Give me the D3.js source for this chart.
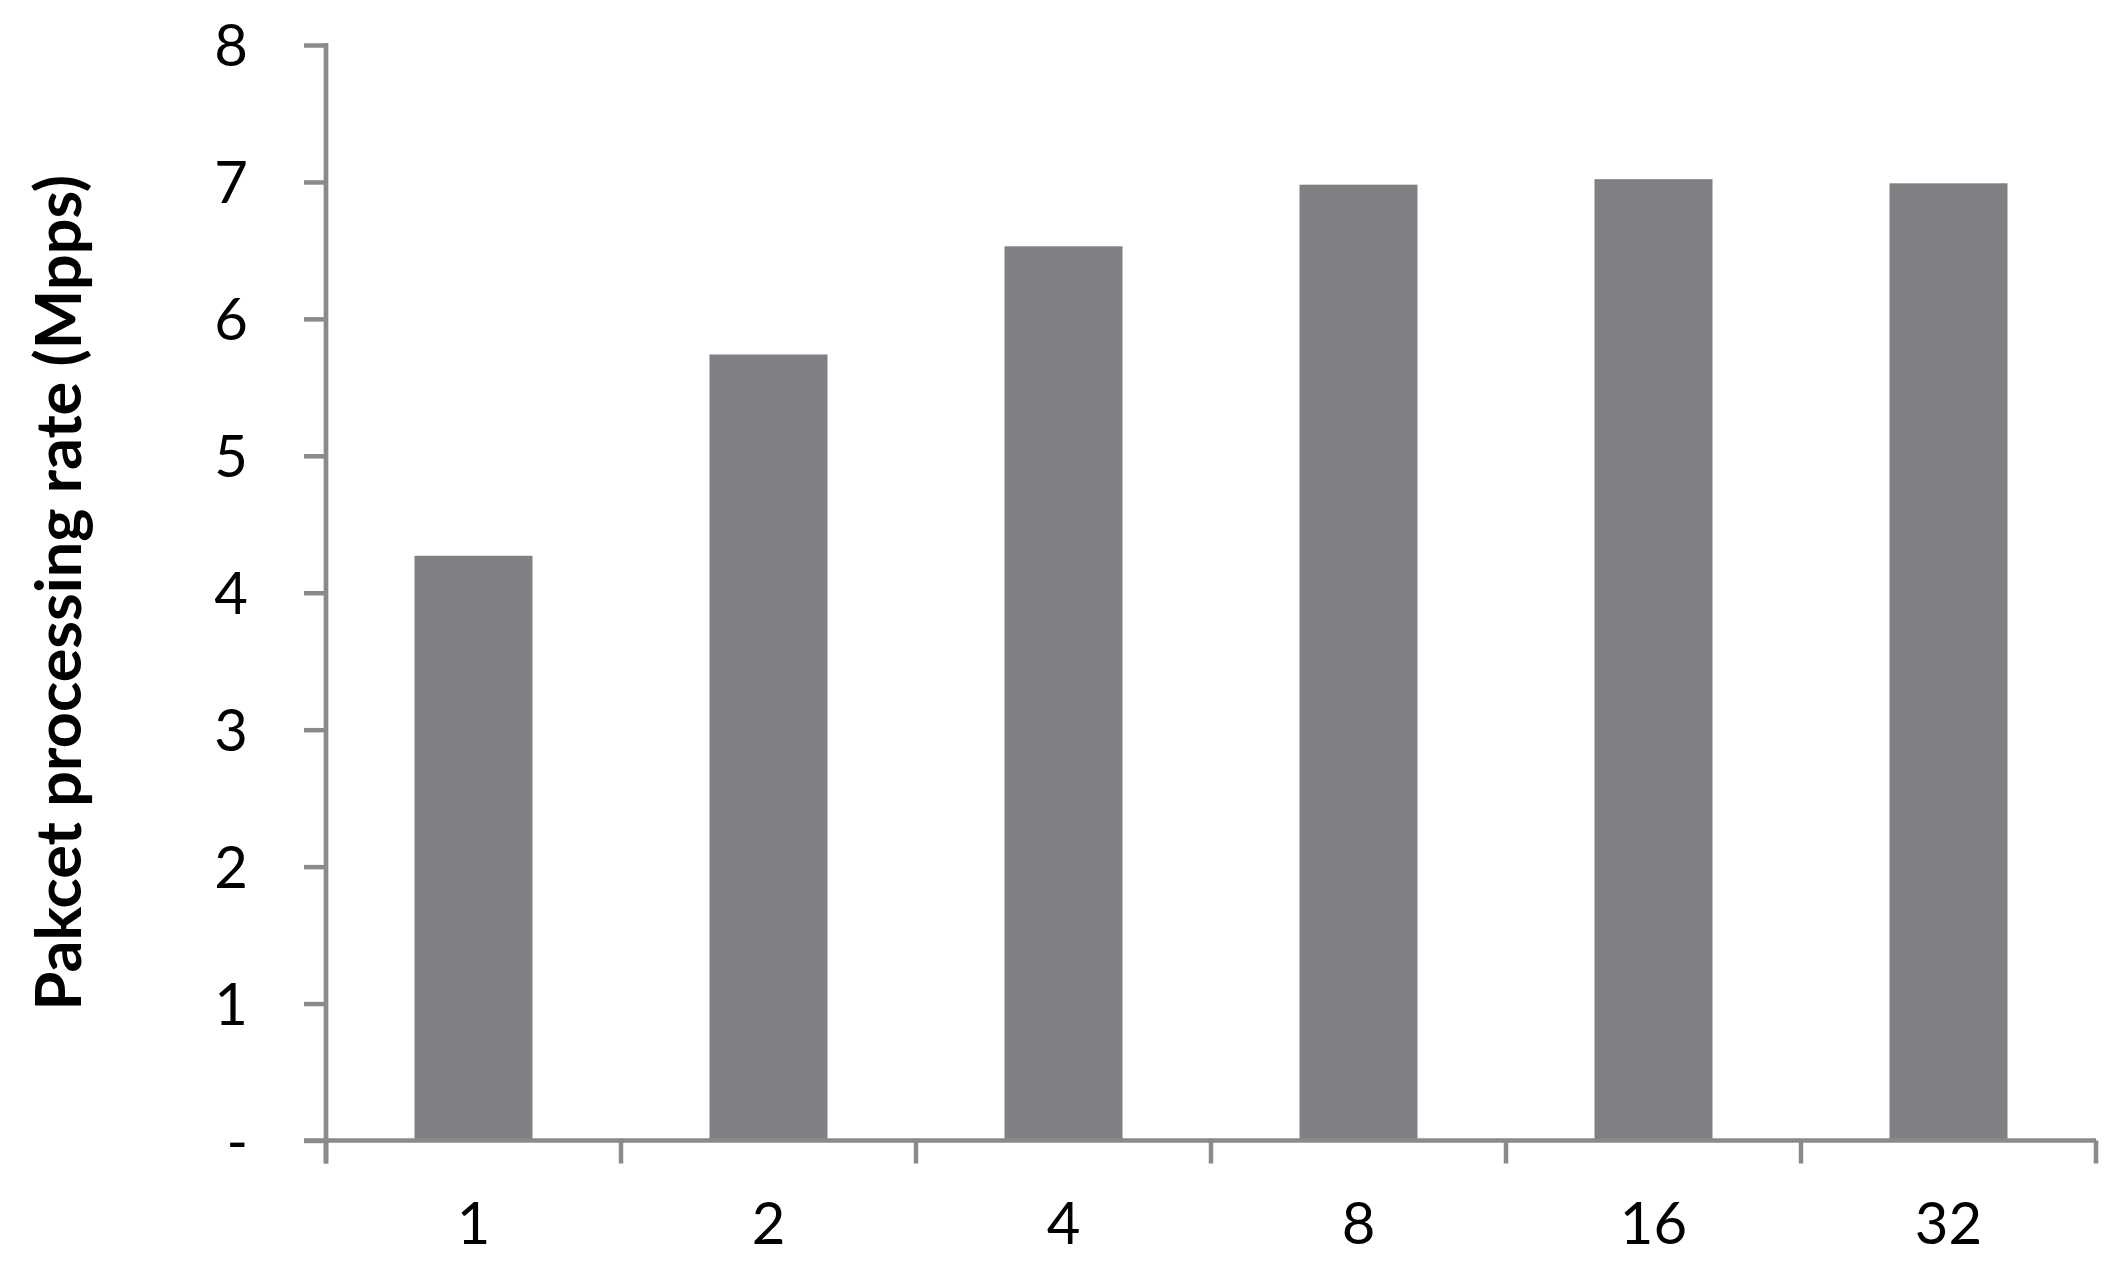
<!DOCTYPE html>
<html>
<head>
<meta charset="utf-8">
<script src="https://cdnjs.cloudflare.com/ajax/libs/d3/7.8.5/d3.min.js"></script>
<style>
  body { margin: 0; background: #fff; }
  svg text { font-family: Lato, "Open Sans", sans-serif; fill: #000; }
</style>
</head>
<body>
<div id="chart"></div>
<script type="text/javascript">
// threads vs packet rate
var categories = ["1", "2", "4", "8", "16", "32"];
var rates = [4.27, 5.74, 6.53, 6.98, 7.02, 6.99];
var yTicks = [0, 1, 2, 3, 4, 5, 6, 7, 8];

var W = 2117, H = 1276,
    pLeft = 326, pRight = 2096,
    pTop = 45, pBottom = 1140.5,
    axisColor = "#898a8e",
    barColor = "#7f8084";

var svg = d3.select("#chart").append("svg")
    .attr("width", W)
    .attr("height", H);

var x = d3.scaleBand()
    .domain(categories)
    .range([pLeft, pRight])
    .paddingInner(0.6)
    .paddingOuter(0.3);

var xTick = d3.scaleBand().domain(categories).range([pLeft, pRight]);

var y = d3.scaleLinear()
    .domain([0, 8])
    .range([pBottom, pTop]);

svg.selectAll("rect.bar")
    .data(rates)
  .enter().append("rect")
    .attr("class", "bar")
    .attr("x", function(d, i) { return x(categories[i]); })
    .attr("width", x.bandwidth())
    .attr("y", function(d) { return y(d); })
    .attr("height", function(d) { return y(0) - y(d); })
    .style("fill", barColor);

// y axis
var yAxis = svg.append("g")
    .attr("transform", "translate(" + pLeft + ",0)")
    .call(d3.axisLeft(y).tickValues(yTicks).tickSize(22).tickPadding(56)
      .tickFormat(function(d) { return d === 0 ? "-" : d; }));
yAxis.select(".domain").remove();
yAxis.selectAll(".tick line").attr("stroke", axisColor).attr("stroke-width", 4.5);
yAxis.selectAll(".tick text").style("font-size", "58px").attr("dy", "0.36em");
yAxis.append("line")
    .attr("x1", 0).attr("x2", 0)
    .attr("y1", pTop - 2).attr("y2", pBottom + 23)
    .attr("stroke", axisColor).attr("stroke-width", 4.7);

// x axis
var xAxis = svg.append("g")
    .attr("transform", "translate(0," + pBottom + ")")
    .call(d3.axisBottom(xTick).tickSize(0).tickPadding(62));
xAxis.select(".domain").remove();
xAxis.selectAll(".tick text").style("font-size", "58px").attr("dy", "0.71em");

xAxis.append("line")
    .attr("x1", pLeft - 22).attr("x2", pRight)
    .attr("y1", 0).attr("y2", 0)
    .attr("stroke", axisColor).attr("stroke-width", 4.5);

xAxis.selectAll("line.sep")
    .data(d3.range(categories.length + 1))
  .enter().append("line")
    .attr("class", "sep")
    .attr("x1", function(i) { return pLeft + i * xTick.step(); })
    .attr("x2", function(i) { return pLeft + i * xTick.step(); })
    .attr("y1", 0).attr("y2", 23)
    .attr("stroke", axisColor).attr("stroke-width", 4.5);

svg.append("text")
    .attr("transform", "translate(81," + ((pTop + pBottom) / 2) + ") rotate(-90)")
    .attr("text-anchor", "middle")
    .style("font-size", "63px")
    .style("font-weight", "bold")
    .text("Pakcet processing rate (Mpps)");
</script>
</body>
</html>
